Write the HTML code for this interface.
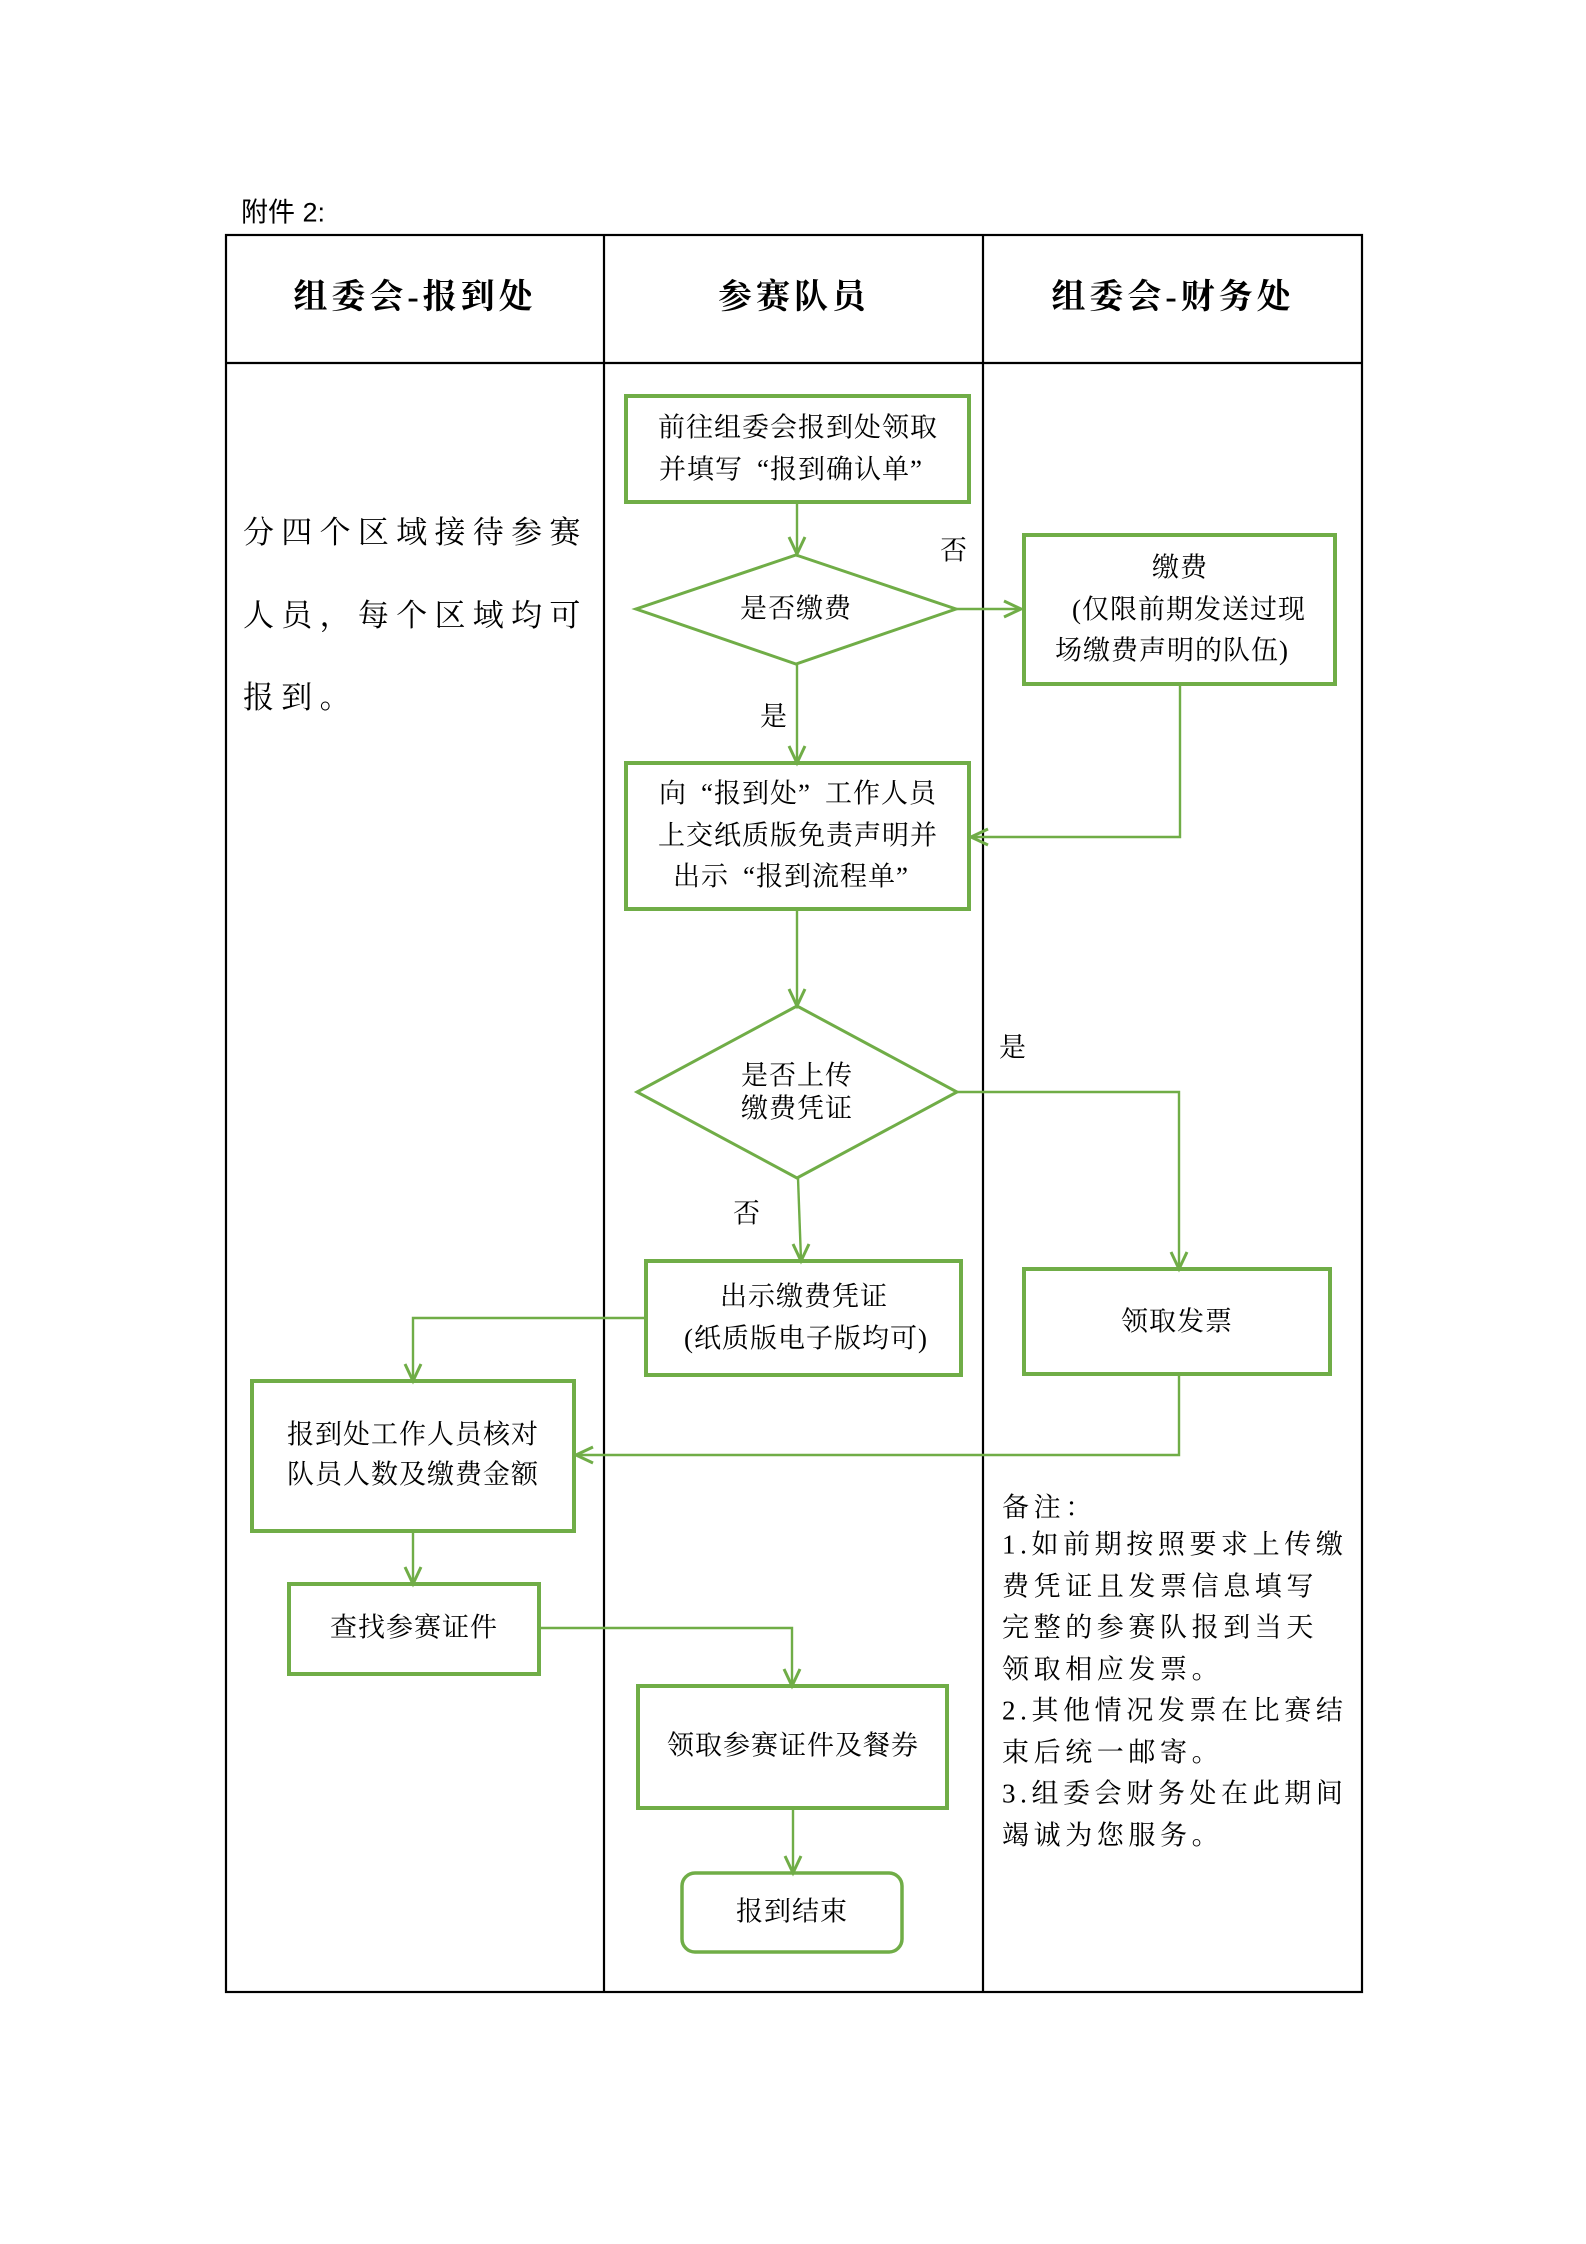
<!DOCTYPE html>
<html>
<head>
<meta charset="utf-8">
<style>
  html,body{margin:0;padding:0;background:#fff;}
  body{width:1586px;height:2244px;position:relative;overflow:hidden;}
  svg{position:absolute;left:0;top:0;}
  .t{position:absolute;transform:translate(-50%,-50%);white-space:nowrap;line-height:1.3;color:#000;}
  .l{position:absolute;transform:translateY(-50%);white-space:nowrap;line-height:1.3;color:#000;}
  .s{font-family:"Liberation Serif","Noto Serif CJK SC",serif;font-size:27px;letter-spacing:1px;}
  .h{font-family:"Liberation Serif","Noto Serif CJK SC",serif;font-size:34px;font-weight:700;letter-spacing:4px;}
  .k{font-family:"Liberation Serif","Noto Serif CJK SC",serif;font-size:31px;letter-spacing:7.3px;}
  .n{font-family:"Liberation Serif","Noto Serif CJK SC",serif;font-size:27px;letter-spacing:4.6px;}
  .a{font-family:"Liberation Sans","Noto Sans CJK SC",sans-serif;font-size:27px;}
  .ql{display:inline-block;width:1em;text-align:right;}
  .qr{display:inline-block;width:1em;text-align:left;}
</style>
</head>
<body>
<svg width="1586" height="2244" viewBox="0 0 1586 2244" xmlns="http://www.w3.org/2000/svg">
  <g stroke="#000" stroke-width="2.2" fill="none">
    <rect x="226" y="235" width="1136" height="1757"/>
    <line x1="226" y1="363" x2="1362" y2="363"/>
    <line x1="604" y1="235" x2="604" y2="1992"/>
    <line x1="983" y1="235" x2="983" y2="1992"/>
  </g>
  <g stroke="#70AD47" stroke-width="4" fill="none">
    <rect x="626" y="396" width="343" height="106"/>
    <rect x="1024" y="535" width="311" height="149"/>
    <rect x="626" y="763" width="343" height="146"/>
    <rect x="646" y="1261" width="315" height="114"/>
    <rect x="1024" y="1269" width="306" height="105"/>
    <rect x="252" y="1381" width="322" height="150"/>
    <rect x="289" y="1584" width="250" height="90"/>
    <rect x="638" y="1686" width="309" height="122"/>
    <rect x="682" y="1873" width="220" height="79" rx="13" ry="13" stroke-width="3.5"/>
  </g>
  <g stroke="#70AD47" stroke-width="3" fill="none">
    <polygon points="796,555 956,609 796,664 636,609"/>
    <polygon points="797,1006 957,1092 797,1178 637,1092"/>
  </g>
  <g stroke="#70AD47" stroke-width="2.4" fill="none">
    <line x1="797" y1="502" x2="797" y2="553"/>
    <line x1="956" y1="609" x2="1021" y2="609"/>
    <line x1="797" y1="664" x2="797" y2="762"/>
    <polyline points="1180,684 1180,837 971,837"/>
    <line x1="797" y1="909" x2="797" y2="1005"/>
    <polyline points="957,1092 1179,1092 1179,1268"/>
    <line x1="798" y1="1178" x2="801" y2="1260"/>
    <polyline points="646,1318 413,1318 413,1380"/>
    <polyline points="1179,1374 1179,1455 576,1455"/>
    <line x1="413" y1="1531" x2="413" y2="1583"/>
    <polyline points="539,1628 792,1628 792,1685"/>
    <line x1="793" y1="1808" x2="793" y2="1872"/>
  </g>
  <g stroke="#70AD47" stroke-width="3" fill="none" stroke-linejoin="miter">
    <polyline points="789,537 797,554 805,537"/>
    <polyline points="1004,601 1021,609 1004,617"/>
    <polyline points="789,746 797,763 805,746"/>
    <polyline points="988,829 971,837 988,845"/>
    <polyline points="789,989 797,1006 805,989"/>
    <polyline points="1171,1252 1179,1269 1187,1252"/>
    <polyline points="793,1244 801,1261 809,1244"/>
    <polyline points="405,1364 413,1381 421,1364"/>
    <polyline points="593,1447 576,1455 593,1463"/>
    <polyline points="405,1567 413,1584 421,1567"/>
    <polyline points="784,1669 792,1686 800,1669"/>
    <polyline points="785,1856 793,1873 801,1856"/>
  </g>
</svg>

<div class="l a" style="left:241px;top:213px;">附件 2:</div>

<div class="t h" style="left:415px;top:298px;">组委会-报到处</div>
<div class="t h" style="left:794px;top:298px;">参赛队员</div>
<div class="t h" style="left:1173px;top:298px;">组委会-财务处</div>

<div class="l k" style="left:243px;top:533px;">分四个区域接待参赛</div>
<div class="l k" style="left:243px;top:616px;">人员，每个区域均可</div>
<div class="l k" style="left:243px;top:698px;">报到。</div>

<div class="t s" style="left:798px;top:428px;">前往组委会报到处领取</div>
<div class="t s" style="left:798px;top:470px;">并填写<span class="ql">“</span>报到确认单<span class="qr">”</span></div>

<div class="t s" style="left:796px;top:609px;">是否缴费</div>
<div class="t s" style="left:954px;top:551px;">否</div>
<div class="t s" style="left:774px;top:717px;">是</div>

<div class="t s" style="left:1180px;top:568px;">缴费</div>
<div class="t s" style="left:1189px;top:610px;">(仅限前期发送过现</div>
<div class="t s" style="left:1172px;top:651px;">场缴费声明的队伍)</div>

<div class="t s" style="left:798px;top:794px;">向<span class="ql">“</span>报到处<span class="qr">”</span>工作人员</div>
<div class="t s" style="left:798px;top:836px;">上交纸质版免责声明并</div>
<div class="t s" style="left:798px;top:877px;">出示<span class="ql">“</span>报到流程单<span class="qr">”</span></div>

<div class="t s" style="left:797px;top:1076px;">是否上传</div>
<div class="t s" style="left:797px;top:1109px;">缴费凭证</div>
<div class="t s" style="left:1013px;top:1048px;">是</div>
<div class="t s" style="left:747px;top:1214px;">否</div>

<div class="t s" style="left:804px;top:1297px;">出示缴费凭证</div>
<div class="t s" style="left:806px;top:1339px;">(纸质版电子版均可)</div>

<div class="t s" style="left:1177px;top:1322px;">领取发票</div>

<div class="t s" style="left:413px;top:1435px;">报到处工作人员核对</div>
<div class="t s" style="left:413px;top:1475px;">队员人数及缴费金额</div>

<div class="t s" style="left:414px;top:1628px;">查找参赛证件</div>

<div class="t s" style="left:793px;top:1746px;">领取参赛证件及餐券</div>

<div class="t s" style="left:792px;top:1912px;">报到结束</div>

<div class="l n" style="left:1002px;top:1508px;">备注：</div>
<div class="l n" style="left:1002px;top:1545px;">1.如前期按照要求上传缴</div>
<div class="l n" style="left:1002px;top:1587px;">费凭证且发票信息填写</div>
<div class="l n" style="left:1002px;top:1628px;">完整的参赛队报到当天</div>
<div class="l n" style="left:1002px;top:1670px;">领取相应发票。</div>
<div class="l n" style="left:1002px;top:1711px;">2.其他情况发票在比赛结</div>
<div class="l n" style="left:1002px;top:1753px;">束后统一邮寄。</div>
<div class="l n" style="left:1002px;top:1794px;">3.组委会财务处在此期间</div>
<div class="l n" style="left:1002px;top:1836px;">竭诚为您服务。</div>
</body>
</html>
